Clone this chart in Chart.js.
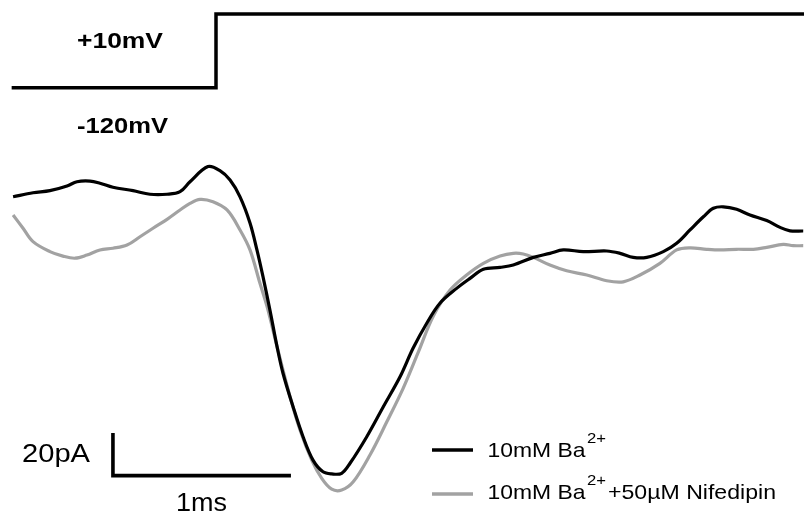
<!DOCTYPE html>
<html>
<head>
<meta charset="utf-8">
<script src="https://cdn.jsdelivr.net/npm/chart.js@4/dist/chart.umd.min.js"></script>
<style>
  html, body { margin: 0; padding: 0; background: #fff; }
  #wrap { width: 804px; height: 516px; position: relative; }
</style>
</head>
<body>
<div id="wrap"><canvas id="trace"></canvas></div>
<script>
// Whole-cell Ba2+ current, time in ms from the voltage step, current in pA
const TIME_BA = [-1.140, -1.028, -0.933, -0.837, -0.781, -0.708, -0.652, -0.579, -0.466, -0.371,
  -0.275, -0.202, -0.146, -0.045, 0.022, 0.079, 0.135, 0.191, 0.230, 0.264,
  0.303, 0.343, 0.376, 0.433, 0.489, 0.545, 0.601, 0.650, 0.706, 0.753,
  0.847, 0.940, 1.034, 1.107, 1.184, 1.258, 1.352, 1.427, 1.502, 1.596,
  1.670, 1.783, 1.876, 1.951, 2.063, 2.195, 2.270, 2.344, 2.420, 2.513,
  2.588, 2.663, 2.738, 2.794, 2.850, 2.925, 3.000, 3.094, 3.169, 3.225, 3.299];
const CURRENT_BA = [-3.2, -1.3, -0.3, 1.9, 3.9, 4.2, 3.2, 1.3, -0.3, -2.0,
  -2.0, -0.8, 3.9, 11.0, 9.1, 4.7, -3.2, -15.5, -28.2, -40.8,
  -56.5, -73.7, -86.1, -102.0, -116.1, -127.1, -132.6, -133.6, -133.3, -128.6,
  -116.1, -102.0, -87.9, -74.5, -62.7, -53.3, -46.3, -41.6, -37.3, -36.4,
  -35.3, -31.7, -29.8, -28.2, -29.0, -28.7, -29.8, -31.7, -31.7, -29.0,
  -25.1, -18.8, -12.6, -8.6, -7.9, -9.1, -11.8, -14.4, -17.6, -19.2, -19.3];

const TIME_NIF = [-1.140, -1.084, -1.028, -0.933, -0.860, -0.792, -0.725, -0.652, -0.579, -0.500,
  -0.427, -0.354, -0.275, -0.202, -0.146, -0.090, -0.017, 0.062, 0.135, 0.191,
  0.247, 0.287, 0.343, 0.416, 0.472, 0.538, 0.594, 0.650, 0.706, 0.771,
  0.865, 0.959, 1.052, 1.137, 1.221, 1.315, 1.408, 1.502, 1.596, 1.670,
  1.726, 1.783, 1.876, 1.970, 2.083, 2.195, 2.288, 2.382, 2.494, 2.588,
  2.663, 2.757, 2.831, 2.925, 3.019, 3.094, 3.187, 3.243, 3.299];
const CURRENT_NIF = [-11.8, -18.0, -24.3, -29.0, -31.1, -32.1, -30.6, -28.2, -27.4, -25.9,
  -22.0, -18.0, -13.8, -9.4, -6.3, -4.4, -5.5, -9.4, -18.8, -28.2,
  -43.9, -54.9, -73.7, -97.3, -112.9, -127.1, -135.7, -140.8, -141.2, -137.3,
  -124.7, -109.2, -93.2, -76.2, -59.3, -47.1, -40.0, -34.5, -31.1, -29.8,
  -30.1, -31.7, -35.3, -38.0, -40.0, -42.7, -43.2, -40.0, -34.5, -28.2,
  -27.2, -27.9, -28.2, -27.9, -27.9, -27.0, -25.6, -26.2, -26.2];

// Voltage protocol: hold at -120 mV, step to +10 mV at t = 0
const STEP_TIME = [-1.148, 0, 3.31];
const STEP_VOLTAGE = [-120, 10, 10];

// Scale bar
const SCALE_ORIGIN = [-0.579, -134.4];
const SCALE_TIME = 1;      // ms
const SCALE_CURRENT = 20;  // pA

const SERIES_NAMES = ['10mM Ba', '10mM Ba'];
const SERIES_SUFFIX = ['', '+50\u00b5M Nifedipin'];

const FONT = '"Liberation Sans", Arial, Helvetica, sans-serif';

function points(xs, ys) {
  return xs.map((x, i) => ({ x, y: ys[i] }));
}

function mv(v) {
  return (v > 0 ? '+' : '') + v + 'mV';
}

// fill text squeezed/stretched horizontally to a given width
function wideText(ctx, text, x, y, font, width) {
  ctx.font = font;
  const w = ctx.measureText(text).width;
  ctx.save();
  ctx.translate(x, y);
  ctx.scale(width / w, 1);
  ctx.fillText(text, 0, 0);
  ctx.restore();
}

const annotations = {
  id: 'annotations',
  afterDraw(chart) {
    const ctx = chart.ctx;
    ctx.save();
    ctx.fillStyle = '#000';
    ctx.textBaseline = 'alphabetic';
    ctx.textAlign = 'left';

    wideText(ctx, mv(STEP_VOLTAGE[1]), 77, 47.5, 'bold 22px ' + FONT, 86);
    wideText(ctx, mv(STEP_VOLTAGE[0]), 77, 132.5, 'bold 22px ' + FONT, 91);

    wideText(ctx, SCALE_CURRENT + 'pA', 22, 462, '25px ' + FONT, 68);
    wideText(ctx, SCALE_TIME + 'ms', 176, 511, '25px ' + FONT, 51);

    // legend
    const rows = [450, 494];
    const bases = [457, 499];
    chart.data.datasets.slice(0, 2).forEach((ds, i) => {
      ctx.strokeStyle = ds.borderColor;
      ctx.lineWidth = 3.3;
      ctx.beginPath();
      ctx.moveTo(432, rows[i]);
      ctx.lineTo(473, rows[i]);
      ctx.stroke();
      wideText(ctx, SERIES_NAMES[i], 487.5, bases[i], '21px ' + FONT, 98);
      wideText(ctx, '2+', 587, bases[i] - 14, '15px ' + FONT, 19);
      if (SERIES_SUFFIX[i]) {
        wideText(ctx, SERIES_SUFFIX[i], 608, bases[i], '21px ' + FONT, 168);
      }
    });
    ctx.restore();
  }
};

const [ox, oy] = SCALE_ORIGIN;

new Chart(document.getElementById('trace'), {
  type: 'line',
  data: {
    datasets: [
      {
        label: SERIES_NAMES[0],
        data: points(TIME_BA, CURRENT_BA),
        borderColor: '#000000',
        borderWidth: 3.2,
        tension: 0.35,
      },
      {
        label: SERIES_NAMES[1] + SERIES_SUFFIX[1],
        data: points(TIME_NIF, CURRENT_NIF),
        borderColor: '#a2a2a2',
        borderWidth: 3.2,
        tension: 0.35,
      },
      {
        label: 'step',
        data: points(STEP_TIME, STEP_VOLTAGE),
        yAxisID: 'yV',
        stepped: 'before',
        borderColor: '#000000',
        borderWidth: 3.5,
        borderJoinStyle: 'miter',
      },
      {
        label: 'scale',
        data: [
          { x: ox, y: oy + SCALE_CURRENT },
          { x: ox, y: oy },
          { x: ox + SCALE_TIME, y: oy },
        ],
        borderColor: '#000000',
        borderWidth: 3.6,
        borderJoinStyle: 'miter',
        borderCapStyle: 'butt',
      },
    ],
  },
  options: {
    responsive: true,
    maintainAspectRatio: false,
    animation: false,
    layout: { padding: 0 },
    elements: {
      point: { radius: 0, hoverRadius: 0 },
      line: { fill: false, tension: 0 },
    },
    plugins: {
      legend: { display: false },
      tooltip: { enabled: false },
    },
    scales: {
      x: { type: 'linear', display: false, min: -1.2135, max: 3.3034 },
      y: { display: false, min: -153.41, max: 89.41 },
      yV: { display: false, min: -875.5, max: 34.7 },
    },
  },
  plugins: [annotations],
});
</script>
</body>
</html>
